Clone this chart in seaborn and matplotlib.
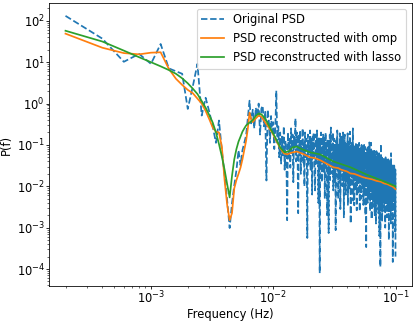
import numpy as np
import matplotlib
matplotlib.use("Agg")
import matplotlib.pyplot as plt
import seaborn as sns

# ---- data (log10 of PSD values) ----
freq_step_hz = 2e-4
n_bins = 500

psd_original_log10 = [
    2.12, 1.57, 1.01, 1.20, 0.96, 1.44, 0.85, 0.78, 0.72, -0.13,
    0.42, 0.96, -0.29, 0.14, -0.20, -0.55, -0.95, -0.41, -1.13, -1.73,
    -2.34, -3.01, -2.41, -1.98, -1.61, -1.13, -1.49, -1.13, -0.95, -0.77,
    -0.35, 0.07, -0.48, -0.15, -0.60, -0.10, -0.30, 0.00, -0.75, -0.12,
    -0.05, -0.55, -0.20, -1.86, -0.15, -0.40, -0.95, -0.30, -0.70, -0.45,
    -1.10, -0.60, 0.31, -0.95, -0.55, -1.30, -0.70, -1.45, -0.80, -1.25,
    -0.55, -1.60, -0.90, -1.20, -2.82, -0.70, -1.35, -0.85, -1.55, -0.60,
    -1.20, -0.75, -1.90, -0.80, -1.05, -0.36, -1.40, -0.70, -1.10, -2.65,
    -0.75, -1.25, -0.65, -1.70, -0.90, -1.15, -0.60, -1.45, -0.95, -2.00,
    -0.70, -1.30, -0.85, -1.10, -3.25, -0.75, -1.50, -0.90, -1.20, -0.65,
    -1.60, -0.85, -1.05, -2.20, -0.80, -1.35, -0.70, -1.15, -1.80, -2.10,
    -0.75, -1.00, -1.45, -0.65, -1.30, -0.90, -2.40, -0.80, -1.20, -4.10,
    -0.85, -1.55, -0.70, -1.10, -1.90, -0.90, -1.35, -0.75, -1.65, -1.00,
    -0.80, -2.30, -1.05, -0.70, -1.45, -0.95, -1.25, -2.70, -0.85, -1.15,
    -1.60, -3.13, -0.90, -1.30, -0.75, -1.85, -1.05, -0.58, -1.40, -1.10,
    -0.95, -1.70, -1.20, -0.70, -2.10, -1.05, -1.45, -0.85, -1.30, -1.90,
    -1.00, -3.06, -1.25, -0.90, -1.55, -1.10, -0.65, -1.65, -1.20, -2.30,
    -0.95, -1.35, -1.05, -1.80, -0.72, -1.25, -2.55, -1.00, -1.40, -0.80,
    -1.60, -1.15, -0.95, -2.00, -1.30, -0.70, -1.50, -1.10, -2.75, -1.00,
    -1.35, -0.75, -1.75, -1.20, -1.05, -2.20, -0.95, -1.45, -1.15, -1.85,
    -1.00, -1.40, -0.72, -2.45, -1.25, -1.10, -1.70, -0.95, -1.35, -2.05,
    -1.15, -0.68, -1.55, -1.05, -2.90, -1.20, -1.00, -1.65, -1.30, -0.95,
    -1.80, -1.10, -1.40, -0.60, -1.25, -2.35, -1.05, -1.50, -1.20, -2.46,
    -1.00, -1.35, -1.70, -1.05, -1.45, -2.10, -0.95, -1.30, -1.60, -1.15,
    -2.58, -1.10, -1.40, -1.00, -1.85, -1.25, -1.05, -1.55, -2.20, -1.15,
    -1.35, -0.95, -1.70, -1.25, -2.60, -1.10, -1.45, -1.05, -1.90, -1.30,
    -1.15, -2.30, -1.40, -1.00, -1.60, -1.25, -2.05, -1.10, -1.50, -1.20,
    -1.75, -1.05, -2.45, -1.35, -1.15, -1.65, -1.00, -1.90, -1.30, -2.15,
    -1.20, -1.55, -1.05, -2.70, -1.40, -1.25, -1.80, -3.47, -1.15, -1.50,
    -1.30, -2.00, -1.10, -1.60, -1.35, -2.40, -1.20, -1.70, -1.05, -1.85,
    -1.45, -1.25, -2.25, -1.15, -1.55, -0.94, -1.40, -1.95, -1.30, -2.60,
    -1.20, -1.60, -1.35, -2.05, -1.10, -0.95, -1.75, -1.40, -2.80, -1.25,
    -1.55, -1.30, -2.15, -1.15, -1.70, -1.40, -2.50, -1.20, -1.85, -1.35,
    -1.60, -1.25, -2.35, -1.45, -1.10, -1.90, -1.35, -2.70, -1.20, -1.65,
    -1.40, -2.10, -1.25, -1.75, -1.50, -2.90, -1.30, -1.60, -1.15, -2.00,
    -1.45, -1.30, -2.40, -1.55, -1.20, -1.85, -1.40, -2.20, -1.25, -1.70,
    -1.50, -2.65, -1.30, -1.80, -1.45, -2.05, -1.20, -1.60, -3.20, -1.35,
    -1.75, -1.50, -2.30, -1.25, -1.65, -3.95, -1.40, -1.90, -1.55, -0.98,
    -1.35, -2.15, -1.60, -1.45, -2.50, -1.30, -1.75, -1.50, -2.85, -1.40,
    -1.65, -2.00, -1.35, -1.80, -1.55, -2.40, -1.30, -1.70, -1.45, -2.20,
    -1.50, -1.35, -2.60, -1.65, -1.40, -1.95, -1.55, -2.30, -1.35, -1.80,
    -1.60, -3.00, -1.45, -1.75, -1.30, -2.10, -1.55, -1.85, -2.45, -1.40,
    -1.70, -1.50, -2.25, -1.35, -1.90, -1.60, -2.75, -1.45, -1.80, -1.55,
    -2.05, -1.40, -1.70, -2.50, -1.50, -1.85, -1.35, -2.20, -1.65, -1.45,
    -3.30, -1.60, -1.80, -1.40, -2.15, -1.55, -1.75, -2.60, -1.45, -1.90,
    -1.65, -2.35, -1.50, -1.80, -1.35, -2.00, -1.70, -2.90, -1.55, -1.20,
    -1.85, -1.60, -2.25, -1.45, -1.75, -2.55, -1.50, -1.90, -1.65, -2.10,
    -1.55, -1.80, -2.40, -1.50, -3.83, -1.70, -1.95, -1.60, -2.20, -1.45,
    -1.85, -1.65, -2.60, -1.55, -1.90, -1.70, -2.30, -1.50, -1.80, -2.05,
    -1.60, -2.45, -1.75, -1.55, -2.15, -1.65, -1.95, -3.10, -1.60, -3.70,
]

# reconstructed PSDs (bin index, log10 value)
omp_bins = [1, 2, 3, 4, 5, 6, 7, 8, 9, 10, 11, 12, 13, 14, 15, 16, 17, 18, 19,
            20, 21, 22, 23, 24, 25, 26, 27, 28, 29, 30, 31, 32, 33, 34, 36, 38,
            40, 44, 49, 53, 57, 61, 65, 70, 78, 88, 100, 110, 121, 130, 140,
            155, 170, 180, 200, 214, 230, 250, 270, 296, 320, 350, 380, 402,
            430, 450, 475, 500]
omp_log10 = [1.69, 1.35, 1.22, 1.19, 1.23, 1.24, 0.84, 0.60, 0.45, 0.33, 0.25,
             0.12, 0.00, -0.18, -0.38, -0.58, -0.68, -0.70, -1.05, -1.85,
             -2.45, -2.82, -2.65, -2.05, -1.85, -1.70, -1.55, -1.35, -1.12,
             -0.90, -0.60, -0.22, -0.38, -0.45, -0.36, -0.29, -0.32, -0.50,
             -0.70, -0.90, -1.08, -1.20, -1.23, -1.19, -1.16, -1.22, -1.30,
             -1.32, -1.37, -1.42, -1.47, -1.54, -1.56, -1.60, -1.64, -1.69,
             -1.70, -1.74, -1.78, -1.81, -1.83, -1.87, -1.89, -1.93, -1.95,
             -1.98, -2.01, -2.07]

lasso_bins = [1, 2, 3, 4, 5, 6, 7, 8, 9, 10, 11, 12, 13, 14, 15, 16, 17, 18,
              19, 20, 21, 22, 23, 24, 25, 26, 27, 28, 29, 30, 32, 34, 36, 38,
              40, 43, 47, 52, 57, 62, 67, 72, 78, 85, 100, 121, 155, 214, 296,
              402, 500]
lasso_log10 = [1.76, 1.50, 1.28, 1.12, 1.00, 0.90, 0.81, 0.72, 0.61, 0.49,
               0.36, 0.23, 0.06, -0.10, -0.28, -0.46, -0.70, -0.98, -1.28,
               -1.60, -1.95, -2.27, -1.75, -1.35, -1.10, -0.92, -0.80, -0.68,
               -0.60, -0.53, -0.46, -0.40, -0.30, -0.24, -0.26, -0.36, -0.58,
               -0.82, -1.06, -1.18, -1.15, -1.06, -1.04, -1.10, -1.18, -1.23,
               -1.40, -1.54, -1.73, -1.88, -2.00]

labels = ["Original PSD", "PSD reconstructed with omp", "PSD reconstructed with lasso"]
colors = ["#1f77b4", "#ff7f0e", "#2ca02c"]
x_major_ticks = [1e-3, 1e-2, 1e-1]
y_major_ticks = [1e-4, 1e-3, 1e-2, 1e-1, 1e0, 1e1, 1e2]

freqs = np.arange(1, n_bins + 1) * freq_step_hz
psd_original = 10.0 ** np.array(psd_original_log10)
omp_freqs = np.array(omp_bins) * freq_step_hz
omp_vals = 10.0 ** np.array(omp_log10)
lasso_freqs = np.array(lasso_bins) * freq_step_hz
lasso_vals = 10.0 ** np.array(lasso_log10)

# ---- figure ----
W, H = 415, 323
DPI = 83
fig = plt.figure(figsize=(W / DPI, H / DPI), dpi=DPI)
ax = fig.add_axes([49 / W, 1 - 286 / H, (412 - 49) / W, (286 - 3) / H])
ax.set_xscale("log")
ax.set_yscale("log")

sns.lineplot(x=freqs, y=psd_original, ax=ax, color=colors[0], linestyle="--",
             linewidth=1.5, label=labels[0], estimator=None, sort=False)
sns.lineplot(x=omp_freqs, y=omp_vals, ax=ax, color=colors[1], linewidth=1.5,
             label=labels[1], estimator=None, sort=False)
sns.lineplot(x=lasso_freqs, y=lasso_vals, ax=ax, color=colors[2], linewidth=1.5,
             label=labels[2], estimator=None, sort=False)

xlim = ax.get_xlim()
ylim = ax.get_ylim()
ax.set_xticks(x_major_ticks)
ax.set_yticks(y_major_ticks)
ax.set_xlim(xlim)
ax.set_ylim(ylim)

ax.set_xlabel("Frequency (Hz)", fontsize=10, labelpad=1.0)
ax.set_ylabel("P(f)", fontsize=10, labelpad=3.5)
ax.tick_params(which="major", labelsize=10, length=2.4, pad=1.2, width=0.7)
ax.tick_params(which="minor", length=1.4, width=0.5)
for sp in ax.spines.values():
    sp.set_linewidth(0.7)
ax.legend(loc="upper right", fontsize=10)

fig.savefig("out.png", dpi=DPI)
